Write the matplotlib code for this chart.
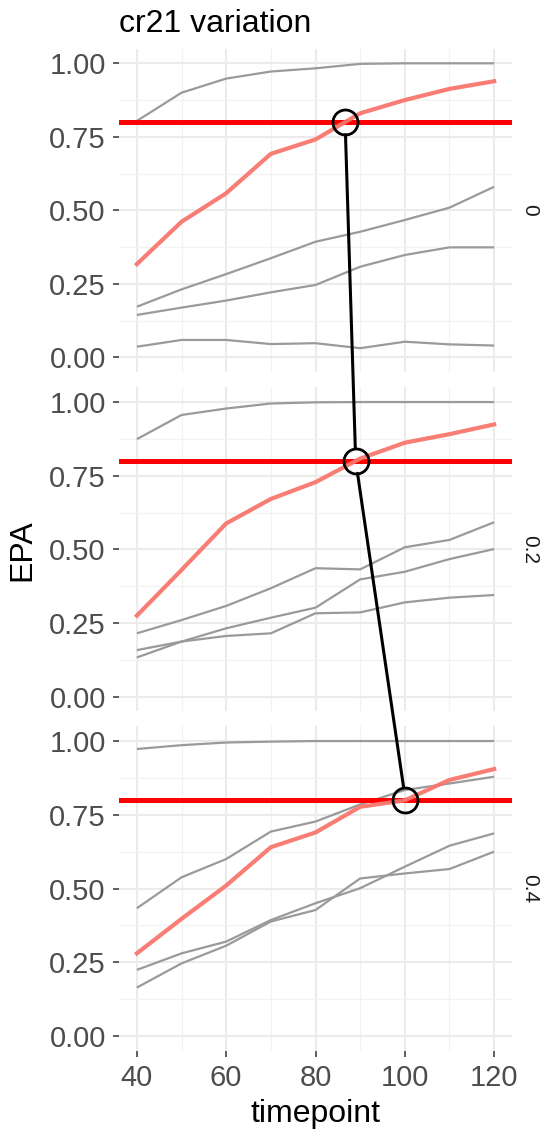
import numpy as np
import matplotlib
matplotlib.use("Agg")
import matplotlib.pyplot as plt
from matplotlib.patches import ConnectionPatch

plt.rcParams["font.family"] = ["Liberation Sans", "DejaVu Sans"]

# ---- data -------------------------------------------------------------
timepoints = [40, 50, 60, 70, 80, 90, 100, 110, 120]
facet_labels = ["0", "0.2", "0.4"]
threshold = 0.80

# highlighted (cr21) series, one per facet
cr21_f0 = [0.317, 0.461, 0.558, 0.692, 0.741, 0.830, 0.875, 0.913, 0.939]
cr21_f1 = [0.275, 0.430, 0.588, 0.671, 0.728, 0.808, 0.862, 0.891, 0.924]
cr21_f2 = [0.280, 0.397, 0.510, 0.640, 0.690, 0.777, 0.799, 0.868, 0.905]

# remaining series in each facet
others_f0 = [
    [0.804, 0.900, 0.948, 0.972, 0.983, 0.998, 1.000, 1.000, 1.000],
    [0.172, 0.231, 0.283, 0.337, 0.393, 0.427, 0.467, 0.509, 0.580],
    [0.144, 0.169, 0.193, 0.221, 0.246, 0.308, 0.348, 0.374, 0.374],
    [0.036, 0.059, 0.059, 0.045, 0.048, 0.031, 0.053, 0.044, 0.040],
]
others_f1 = [
    [0.874, 0.956, 0.978, 0.995, 0.999, 1.000, 1.000, 1.000, 1.000],
    [0.215, 0.260, 0.308, 0.368, 0.436, 0.432, 0.507, 0.532, 0.592],
    [0.133, 0.187, 0.232, 0.268, 0.302, 0.398, 0.424, 0.467, 0.501],
    [0.158, 0.187, 0.206, 0.215, 0.283, 0.286, 0.320, 0.336, 0.345],
]
others_f2 = [
    [0.973, 0.986, 0.995, 0.998, 1.000, 1.000, 1.000, 1.000, 1.000],
    [0.433, 0.538, 0.600, 0.693, 0.727, 0.785, 0.834, 0.856, 0.879],
    [0.224, 0.280, 0.320, 0.393, 0.450, 0.501, 0.574, 0.645, 0.687],
    [0.164, 0.246, 0.306, 0.388, 0.427, 0.534, 0.551, 0.566, 0.625],
]

highlights = [cr21_f0, cr21_f1, cr21_f2]
others = [others_f0, others_f1, others_f2]

x_major = [40, 60, 80, 100, 120]
x_minor = [50, 70, 90, 110]
y_major = [0.0, 0.25, 0.5, 0.75, 1.0]
y_minor = [0.125, 0.375, 0.625, 0.875]


def first_crossing(x, y, level):
    """Timepoint at which a series first reaches `level` (linear interpolation)."""
    for i in range(1, len(x)):
        if y[i - 1] < level <= y[i]:
            return x[i - 1] + (level - y[i - 1]) / (y[i] - y[i - 1]) * (x[i] - x[i - 1])
    return np.nan


# ---- figure -----------------------------------------------------------
W, H = 549, 1132
fig = plt.figure(figsize=(W / 100, H / 100), dpi=100)

left_px, right_px = 119, 512
panel_px = [(48.6, 372.0), (387.3, 711.4), (726.3, 1050.7)]

tick_col = "#4D4D4D"
axes = []
for k, (top, bot) in enumerate(panel_px):
    ax = fig.add_axes([left_px / W, 1 - bot / H, (right_px - left_px) / W, (bot - top) / H])
    axes.append(ax)
    ax.set_xlim(36, 124)
    ax.set_ylim(-0.05, 1.05)
    ax.set_xticks(x_major)
    ax.set_xticks(x_minor, minor=True)
    ax.set_yticks(y_major)
    ax.set_yticks(y_minor, minor=True)
    ax.set_yticklabels([f"{v:.2f}" for v in y_major])
    ax.grid(which="major", color="#EBEBEB", lw=1.5)
    ax.grid(which="minor", color="#F2F2F2", lw=0.9)
    ax.set_axisbelow(True)
    for s in ax.spines.values():
        s.set_visible(False)
    ax.tick_params(which="minor", length=0)
    ax.tick_params(which="major", length=4.5, width=1.1, color="#333333",
                   labelsize=21, labelcolor=tick_col, pad=5)
    if k < 2:
        ax.tick_params(axis="x", which="major", length=0, labelbottom=False)

    for series in others[k]:
        ax.plot(timepoints, series, color="#9A9A9A", lw=1.6, solid_capstyle="butt", zorder=2)
    ax.axhline(threshold, color="#FF0000", lw=3.6, zorder=3)
    ax.plot(timepoints, highlights[k], color="#F8766D", lw=3.0, alpha=0.95, zorder=4)

    ax.text(1.045, 0.5, facet_labels[k], transform=ax.transAxes, rotation=-90,
            ha="center", va="center", fontsize=15, color="#1A1A1A")

# crossing markers and the connecting line
cross = [first_crossing(timepoints, h, threshold) for h in highlights]
for ax, xc in zip(axes, cross):
    ax.plot([xc], [threshold], marker="o", ms=18, mfc="none", mec="black",
            mew=2.0, zorder=6, clip_on=False)

for i in range(len(axes) - 1):
    con = ConnectionPatch(xyA=(cross[i], threshold), coordsA=axes[i].transData,
                          xyB=(cross[i + 1], threshold), coordsB=axes[i + 1].transData,
                          color="black", lw=2.2, shrinkA=9, shrinkB=9, zorder=5)
    fig.add_artist(con)

# titles
fig.text(left_px / W, 1 - 31.5 / H, "cr21 variation", fontsize=23,
         ha="left", va="baseline", color="black")
fig.text((left_px + right_px) / 2 / W, 1 - 1122 / H, "timepoint", fontsize=23,
         ha="center", va="baseline", color="black")
fig.text(22 / W, 1 - 550 / H, "EPA", fontsize=23, rotation=90,
         ha="center", va="center", color="black")

fig.savefig("out.png", dpi=100)
